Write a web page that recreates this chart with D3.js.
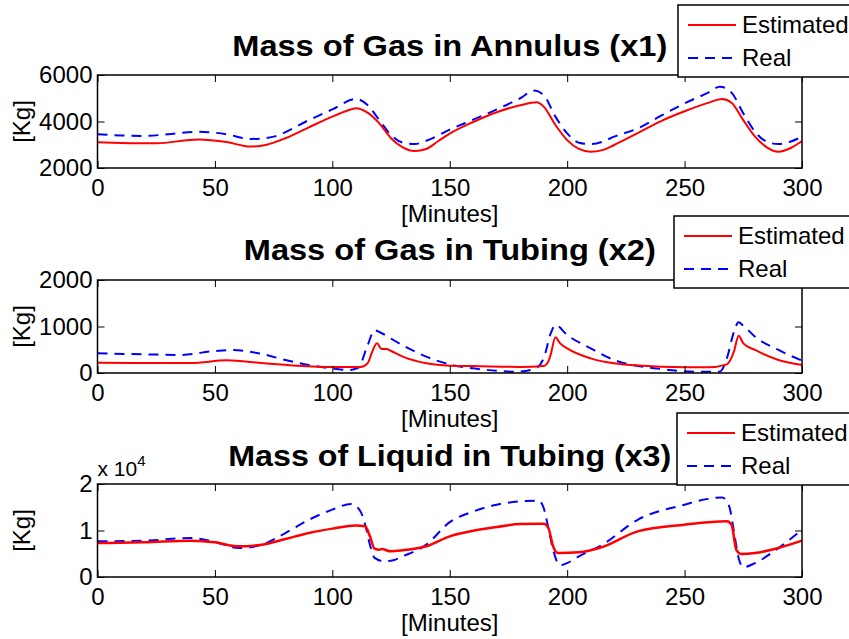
<!DOCTYPE html>
<html>
<head>
<meta charset="utf-8">
<script src="https://cdn.jsdelivr.net/npm/d3@7"></script>
<style>
body{margin:0;background:#fff;}
svg{display:block;font-family:"Liberation Sans",Arial,Helvetica,sans-serif;}
.tick line{stroke:#000;stroke-width:1;}
</style>
</head>
<body>
<div id="chart"></div>
<script>
// [minutes, kg] pairs
var x1Est = [[0,3105],[10,3080],[25,3060],[43,3230],[55,3120],[65,2920],[72,3000],[80,3280],[90,3750],[100,4210],[106,4450],[110,4570],[115,4380],[120,3920],[125,3280],[130,2890],[135,2730],[140,2820],[145,3150],[150,3480],[160,3980],[170,4400],[180,4700],[187,4825],[190,4640],[195,3850],[200,3200],[205,2820],[210,2700],[215,2770],[220,2990],[230,3500],[240,4020],[250,4440],[260,4800],[266,4970],[270,4810],[275,4060],[280,3350],[285,2890],[290,2700],[295,2850],[300,3160]];
var x1Real = [[0,3450],[10,3400],[20,3380],[30,3450],[43,3560],[55,3450],[65,3250],[70,3270],[75,3350],[90,4060],[100,4520],[110,4970],[115,4710],[120,4060],[125,3420],[130,3090],[135,3030],[140,3170],[150,3650],[160,4080],[170,4520],[180,5000],[186,5330],[190,5140],[195,4210],[200,3490],[205,3090],[210,3030],[215,3130],[220,3350],[230,3700],[240,4250],[250,4780],[260,5240],[265,5500],[270,5240],[275,4350],[280,3560],[285,3130],[290,3030],[295,3130],[300,3350]];

var x2Est = [[0,221],[20,215],[40,215],[55,272],[70,215],[85,158],[100,130],[112,130],[115,208],[117,458],[119,638],[121,516],[123,516],[125,473],[130,351],[140,208],[150,158],[160,150],[180,130],[190,150],[192,250],[193,400],[195,767],[197,638],[200,530],[210,315],[220,208],[240,136],[260,122],[268,186],[271,458],[273,802],[275,638],[280,495],[290,280],[300,172]];
var x2Real = [[0,423],[20,402],[35,387],[50,473],[57,495],[70,409],[80,280],[90,172],[100,100],[107,65],[111,110],[115,595],[118,918],[120,882],[125,738],[130,595],[140,351],[150,186],[160,100],[170,50],[178,29],[186,86],[190,315],[193,853],[195,1032],[200,817],[210,530],[220,280],[240,86],[255,29],[265,29],[268,315],[271,882],[273,1090],[275,1018],[280,781],[290,495],[300,265]];

var x3Est = [[0,7300],[20,7460],[40,7810],[50,7460],[60,6600],[70,6950],[80,8170],[90,9460],[100,10400],[110,11100],[114,10900],[116,8750],[118,6100],[120,5870],[121,6000],[125,5520],[130,5740],[140,6600],[150,8750],[160,9960],[170,10750],[180,11400],[190,11460],[192,10540],[194,6600],[196,5160],[205,5300],[215,6450],[230,9820],[250,11250],[268,11970],[270,11250],[272,5870],[274,4950],[280,5160],[290,6240],[300,7810]];
var x3Real = [[0,7670],[20,7810],[40,8390],[50,7530],[60,6240],[70,6950],[80,9460],[90,12300],[100,14500],[108,15700],[112,14100],[114,11250],[116,6950],[118,4100],[122,3370],[126,3600],[130,4450],[140,6950],[150,11800],[160,14100],[170,15550],[180,16270],[188,16400],[190,14840],[192,10540],[194,5870],[197,2500],[200,3000],[205,4450],[215,6950],[230,12300],[250,15550],[260,16800],[266,17100],[269,15200],[271,9820],[273,4100],[275,2090],[280,3000],[290,6240],[300,10170]];

var xTicks = [0, 50, 100, 150, 200, 250, 300];
var seriesNames = ["Estimated", "Real"];

var panels = [
	{title: "Mass of Gas in Annulus (x1)", est: x1Est, real: x1Real, yDomain: [2000, 6000], yTicks: [2000, 4000, 6000], div: 1, top: 75, titleY: 56, titleW: 435, legend: [678, 5]},
	{title: "Mass of Gas in Tubing (x2)", est: x2Est, real: x2Real, yDomain: [0, 2000], yTicks: [0, 1000, 2000], div: 1, top: 280, titleY: 260, titleW: 412, legend: [674, 216]},
	{title: "Mass of Liquid in Tubing (x3)", est: x3Est, real: x3Real, yDomain: [0, 20000], yTicks: [0, 10000, 20000], div: 1e4, top: 484, titleY: 466, titleW: 443, legend: [677, 413]}
];

var width = 849, height = 639,
	left = 97.5, right = 802, plotH = 93,
	tickFont = 24;

var svg = d3.select('#chart').append('svg')
	.attr('width', width)
	.attr('height', height);

var x = d3.scaleLinear().domain([0, 300]).range([left, right]);

panels.forEach(function(p){
	var y = d3.scaleLinear().domain(p.yDomain).range([p.top + plotH, p.top]);
	var g = svg.append('g');

	// curves
	var line = d3.line()
		.x(function(d){ return x(d[0]); })
		.y(function(d){ return y(d[1]); })
		.curve(d3.curveMonotoneX);

	g.append('path').datum(p.real)
		.attr('d', line)
		.style('fill', 'none').style('stroke', '#0000ff')
		.style('stroke-width', 2).style('stroke-dasharray', '10,7');

	g.append('path').datum(p.est)
		.attr('d', line)
		.style('fill', 'none').style('stroke', '#ff0000')
		.style('stroke-width', p.div > 1 ? 2.5 : 2);

	// axes, ticks pointing inward on all four sides
	g.append('g')
		.attr('transform', 'translate(0,' + (p.top + plotH) + ')')
		.call(d3.axisBottom(x).tickValues(xTicks).tickSizeInner(-7).tickSizeOuter(0).tickPadding(11));
	g.append('g')
		.attr('transform', 'translate(0,' + p.top + ')')
		.call(d3.axisTop(x).tickValues(xTicks).tickSizeInner(-7).tickSizeOuter(0).tickFormat(''));
	g.append('g')
		.attr('transform', 'translate(' + left + ',0)')
		.call(d3.axisLeft(y).tickValues(p.yTicks).tickSizeInner(-7).tickSizeOuter(0).tickPadding(5)
			.tickFormat(function(d){ return d / p.div; }));
	g.append('g')
		.attr('transform', 'translate(' + right + ',0)')
		.call(d3.axisRight(y).tickValues(p.yTicks).tickSizeInner(-7).tickSizeOuter(0).tickFormat(''));

	g.selectAll('.domain').remove();
	g.selectAll('.tick text')
		.style('font-size', tickFont + 'px')
		.style('font-family', '"Liberation Sans",Arial,sans-serif')
		.attr('fill', '#000');

	g.append('rect')
		.attr('x', left).attr('y', p.top)
		.attr('width', right - left).attr('height', plotH)
		.style('fill', 'none').style('stroke', '#000').style('stroke-width', 1.5);

	// labels
	g.append('text')
		.attr('x', (left + right) / 2).attr('y', p.titleY)
		.attr('text-anchor', 'middle')
		.attr('textLength', p.titleW).attr('lengthAdjust', 'spacingAndGlyphs')
		.style('font-size', '30px').style('font-weight', 'bold')
		.text(p.title);

	g.append('text')
		.attr('x', (left + right) / 2).attr('y', p.top + plotH + 54)
		.attr('text-anchor', 'middle')
		.style('font-size', tickFont + 'px')
		.text('[Minutes]');

	g.append('text')
		.attr('transform', 'translate(30,' + (p.top + plotH / 2) + ') rotate(-90)')
		.attr('text-anchor', 'middle')
		.style('font-size', tickFont + 'px')
		.text('[Kg]');

	if (p.div > 1) {
		var mult = g.append('text')
			.attr('x', left).attr('y', p.top - 8)
			.style('font-size', '21px')
			.text('x 10');
		mult.append('tspan').attr('dy', -10).style('font-size', '15px').text('4');
	}

	// legend
	var lg = g.append('g')
		.attr('transform', 'translate(' + p.legend[0] + ',' + p.legend[1] + ')');
	lg.append('rect')
		.attr('width', 190).attr('height', 72)
		.style('fill', '#fff').style('stroke', '#000').style('stroke-width', 1.5);
	lg.selectAll('.legend-line')
		.data(seriesNames)
		.enter().append('line')
			.attr('class', 'legend-line')
			.attr('x1', 10).attr('x2', 58)
			.attr('y1', function(d,i){ return 20 + i*33; })
			.attr('y2', function(d,i){ return 20 + i*33; })
			.style('stroke', function(d,i){ return i ? '#0000ff' : '#ff0000'; })
			.style('stroke-width', 2)
			.style('stroke-dasharray', function(d,i){ return i ? '10,7' : null; });
	lg.selectAll('.legend-text')
		.data(seriesNames)
		.enter().append('text')
			.attr('class', 'legend-text')
			.attr('x', 64)
			.attr('y', function(d,i){ return 28 + i*33; })
			.style('font-size', tickFont + 'px')
			.text(function(d){ return d; });
});
</script>
</body>
</html>
